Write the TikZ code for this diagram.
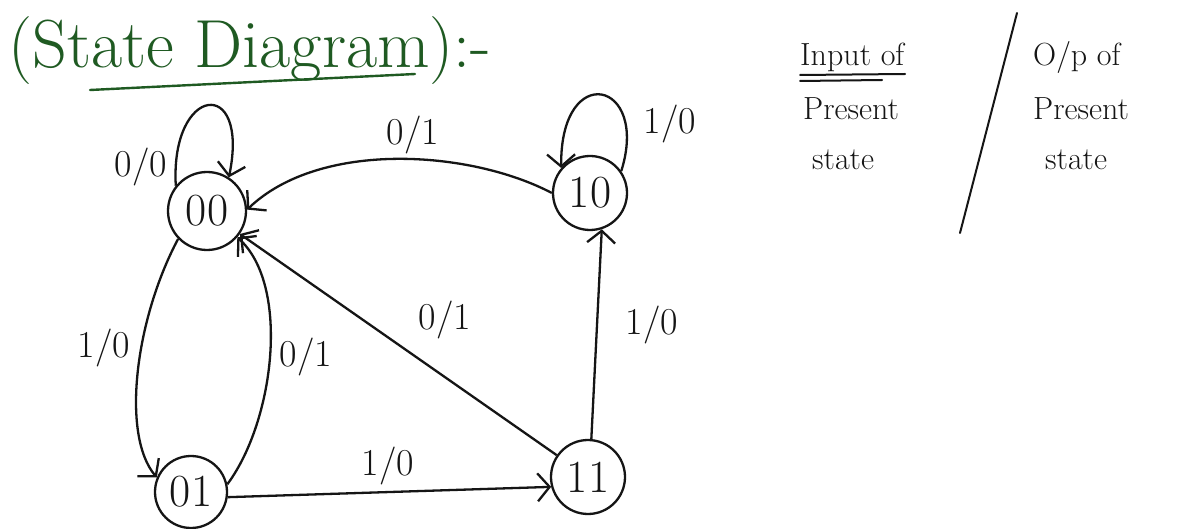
\documentclass[tikz,border=0pt]{standalone}
\usetikzlibrary{arrows.meta}
\definecolor{ink}{HTML}{151515}
\definecolor{titlegreen}{HTML}{1F5A22}
\begin{document}
\begin{tikzpicture}[x=1pt,y=-1pt,
  statenode/.style={circle, draw=ink, line width=2.3pt, inner sep=0pt, text=ink,
    font=\fontsize{46}{46}\selectfont},
  edge/.style={draw=ink, line width=2.3pt, -{Straight Barb[length=12pt,width=28pt]}},
  lbl/.style={font=\fontsize{38}{38}\selectfont, text=ink, inner sep=0pt},
  legtext/.style={font=\fontsize{32}{32}\selectfont, text=ink, inner sep=0pt, anchor=base west},
  inkline/.style={draw=ink, line width=2pt, line cap=round}]
\useasboundingbox (0,0) rectangle (1181,529);
\fill[white] (0,0) rectangle (1181,529);

% title
\node[anchor=base west, inner sep=0pt, text=titlegreen,
  font=\fontsize{68}{68}\selectfont] (title) at (8,68) {(State Diagram):-};
\coordinate (ul1) at (90,90);
\coordinate (ul2) at (415,74);
\draw[titlegreen, line width=2.4pt, line cap=round] (ul1) -- (ul2);

% states
\node[statenode, minimum size=78pt] (s00) at (207,211) {00};
\node[statenode, minimum size=74pt] (s10) at (590,193) {10};
\node[statenode, minimum size=72pt] (s01) at (191,492) {01};
\node[statenode, minimum size=74pt] (s11) at (588,477) {11};

% transitions
\draw[edge] (s00.141) .. controls (170,85) and (250,75) .. (s00.57);
\draw[edge] (s10.35) .. controls (650,80) and (560,60) .. (s10.139);
\draw[edge] (s10.180) .. controls (470,150) and (320,140) .. (s00.2);
\draw[edge] (s00.224) .. controls (135,320) and (121,435) .. (s01.157);
\draw[edge] (s01.12) .. controls (275,420) and (290,285) .. (s00.-41);
\draw[edge] (s11) -- (s00);
\draw[edge] (s11.85) -- (s10.288);
\draw[edge] (s01.-8) -- (s11.195);

% transition labels
\node[lbl] (l00) at (141,167) {0/0};
\node[lbl] (l1010) at (670,124) {1/0};
\node[lbl] (l1000) at (413,135) {0/1};
\node[lbl] (l0001) at (104,348) {1/0};
\node[lbl] (l0100) at (306,357) {0/1};
\node[lbl] (l1100) at (445,320) {0/1};
\node[lbl] (l1110) at (652,325) {1/0};
\node[lbl] (l0111) at (388,466) {1/0};

% legend
\node[legtext] (in1) at (800,66) {Input of};
\node[legtext] (in2) at (803,120) {Present};
\node[legtext] (in3) at (812,170) {state};
\draw[inkline] (800,75) -- (905,74);
\draw[inkline] (800,81) -- (882,80);
\coordinate (sl1) at (1017,13);
\coordinate (sl2) at (960,233);
\draw[inkline] (sl1) -- (sl2);
\node[legtext] (op1) at (1033,66) {O/p of};
\node[legtext] (op2) at (1033,120) {Present};
\node[legtext] (op3) at (1045,170) {state};
\end{tikzpicture}
\end{document}
